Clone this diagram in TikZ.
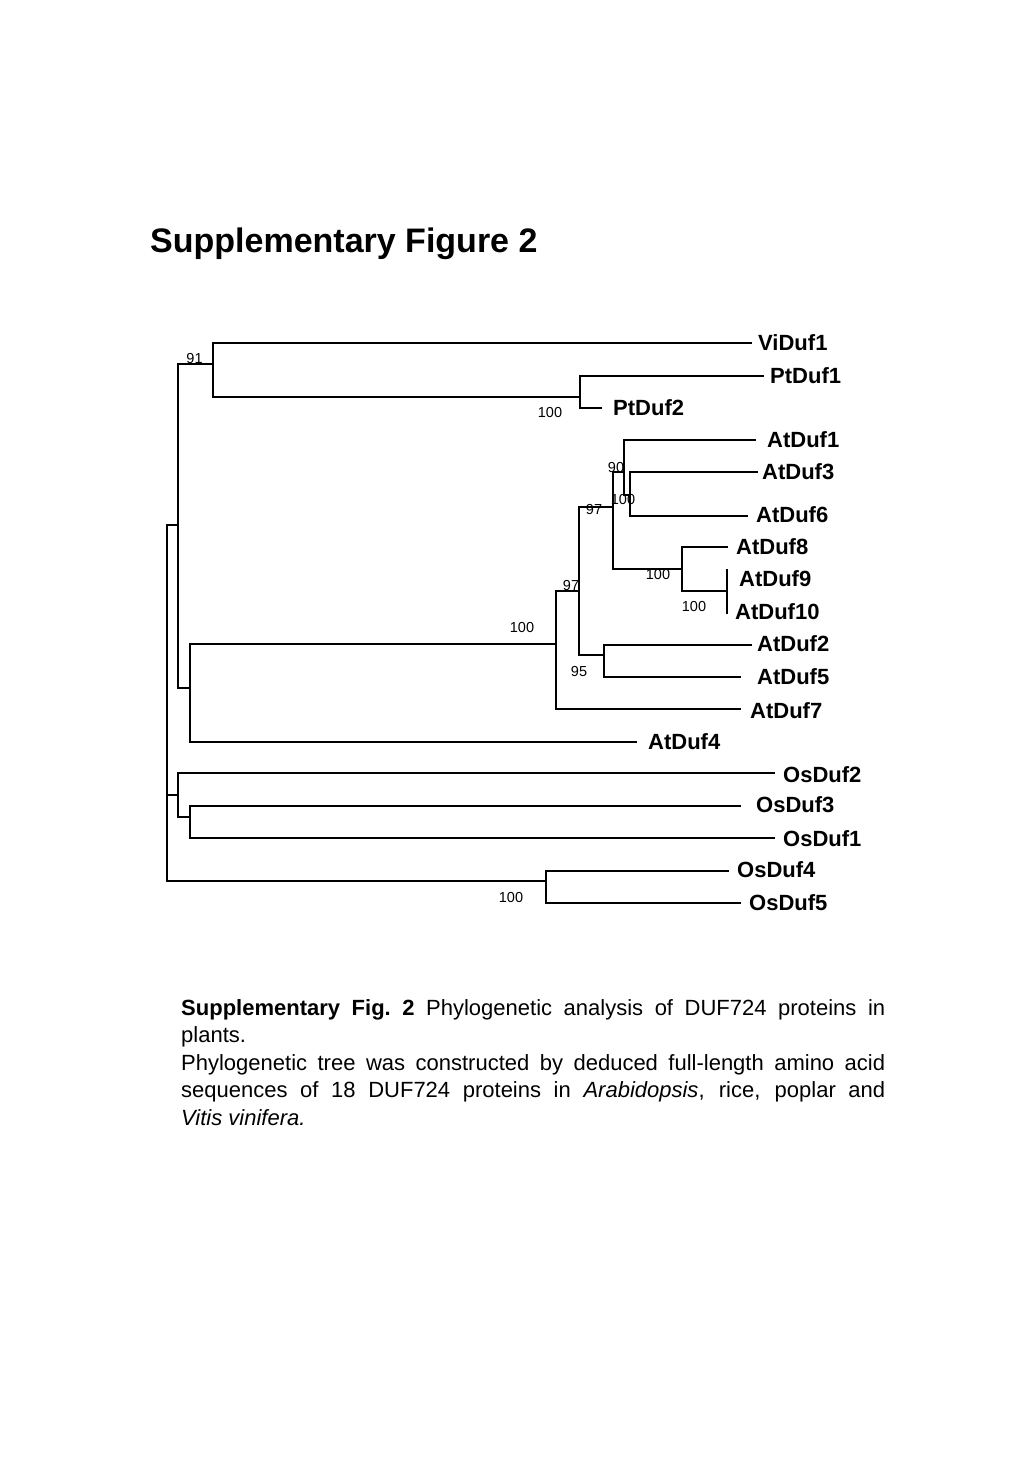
\documentclass[tikz,border=0pt]{standalone}
\usepackage{fontspec}
\setmainfont{Liberation Sans}
\begin{document}
\begin{tikzpicture}[x=1pt,y=-1pt,
  branch/.style={line width=1.1pt,line cap=rect},
  leaf/.style={anchor=west,inner sep=0pt,font=\fontsize{22}{26}\selectfont\bfseries},
  boot/.style={inner sep=0pt,font=\fontsize{14.5}{16}\selectfont},
  capline/.style={anchor=base west,inner sep=0pt,font=\fontsize{22}{27.6}\selectfont}]
\fill[white] (0,0) rectangle (1024,1479);
\useasboundingbox (0,0) rectangle (1024,1479);

% title
\node[anchor=base west,inner sep=0pt,font=\fontsize{34}{40}\selectfont\bfseries] (title) at (150,253) {Supplementary Figure 2};

% leaf line ends
\coordinate (eVi1) at (751,343);
\coordinate (ePt1) at (763,376);
\coordinate (ePt2) at (601,408);
\coordinate (eAt1) at (755,440);
\coordinate (eAt3) at (757,472);
\coordinate (eAt6) at (747,516);
\coordinate (eAt8) at (727,547);
\coordinate (eAt9) at (727,570);
\coordinate (eAt10) at (727,613);
\coordinate (eAt2) at (751,645);
\coordinate (eAt5) at (740,677);
\coordinate (eAt7) at (740,709);
\coordinate (eAt4) at (636,742);
\coordinate (eOs2) at (774,773);
\coordinate (eOs3) at (740,806);
\coordinate (eOs1) at (774,838);
\coordinate (eOs4) at (728,871);
\coordinate (eOs5) at (740,903);

% internal nodes (x of vertical, y of connection to parent)
\coordinate (R) at (167,525);
\coordinate (nA) at (178,525);
\coordinate (nVP) at (213,364);
\coordinate (nPt) at (580,397);
\coordinate (nAt) at (190,688);
\coordinate (n556) at (556,644);
\coordinate (n579) at (579,591);
\coordinate (n613) at (613,507);
\coordinate (n624) at (624,472);
\coordinate (n630) at (630,495);
\coordinate (n682) at (682,569);
\coordinate (n727) at (727,591);
\coordinate (n604) at (604,655);
\coordinate (nO) at (178,795);
\coordinate (nO31) at (190,817);
\coordinate (nO45) at (546,881);

% branches
\draw[branch] (nA) -| (R) |- (nO45);
\draw[branch] (nO) -| (R);
\draw[branch] (nVP) -| (nA) |- (nAt);
\draw[branch] (eVi1) -| (nVP) |- (nPt);
\draw[branch] (ePt1) -| (nPt) |- (ePt2);
\draw[branch] (n556) -| (nAt) |- (eAt4);
\draw[branch] (n579) -| (n556) |- (eAt7);
\draw[branch] (n613) -| (n579) |- (n604);
\draw[branch] (n624) -| (n613) |- (n682);
\draw[branch] (eAt1) -| (n624) |- (n630);
\draw[branch] (eAt3) -| (n630) |- (eAt6);
\draw[branch] (eAt8) -| (n682) |- (n727);
\draw[branch] (eAt9) -- (eAt10);
\draw[branch] (eAt2) -| (n604) |- (eAt5);
\draw[branch] (eOs2) -| (nO) |- (nO31);
\draw[branch] (eOs3) -| (nO31) |- (eOs1);
\draw[branch] (eOs4) -| (nO45) |- (eOs5);

% leaf labels
\node[leaf] (ViDuf1) at (758,343) {ViDuf1};
\node[leaf] (PtDuf1) at (770,376) {PtDuf1};
\node[leaf] (PtDuf2) at (613,408) {PtDuf2};
\node[leaf] (AtDuf1) at (767,440) {AtDuf1};
\node[leaf] (AtDuf3) at (762,472) {AtDuf3};
\node[leaf] (AtDuf6) at (756,515) {AtDuf6};
\node[leaf] (AtDuf8) at (736,547) {AtDuf8};
\node[leaf] (AtDuf9) at (739,579) {AtDuf9};
\node[leaf] (AtDuf10) at (735,612) {AtDuf10};
\node[leaf] (AtDuf2) at (757,644) {AtDuf2};
\node[leaf] (AtDuf5) at (757,677) {AtDuf5};
\node[leaf] (AtDuf7) at (750,711) {AtDuf7};
\node[leaf] (AtDuf4) at (648,742) {AtDuf4};
\node[leaf] (OsDuf2) at (783,775) {OsDuf2};
\node[leaf] (OsDuf3) at (756,805) {OsDuf3};
\node[leaf] (OsDuf1) at (783,839) {OsDuf1};
\node[leaf] (OsDuf4) at (737,870) {OsDuf4};
\node[leaf] (OsDuf5) at (749,903) {OsDuf5};

% bootstrap values
\node[boot] (b1) at (194.5,359) {91};
\node[boot] (b2) at (550,413) {100};
\node[boot] (b3) at (616,468) {90};
\node[boot] (b4) at (623,500) {100};
\node[boot] (b5) at (594,510) {97};
\node[boot] (b6) at (658,575) {100};
\node[boot] (b7) at (694,607) {100};
\node[boot] (b8) at (571,586) {97};
\node[boot] (b9) at (522,628) {100};
\node[boot] (b10) at (579,672) {95};
\node[boot] (b11) at (511,897) {100};

% caption
\node[capline] (c1) at (181,1015) {\makebox[704pt][s]{\textbf{Supplementary Fig.\ 2} Phylogenetic analysis of DUF724 proteins in}};
\node[capline] (c2) at (181,1042.6) {plants.};
\node[capline] (c3) at (181,1070.2) {\makebox[704pt][s]{Phylogenetic tree was constructed by deduced full-length amino acid}};
\node[capline] (c4) at (181,1097.8) {\makebox[704pt][s]{sequences of 18 DUF724 proteins in \textit{Arabidopsis}, rice, poplar and}};
\node[capline] (c5) at (181,1125.4) {\textit{Vitis vinifera.}};
\end{tikzpicture}
\end{document}
